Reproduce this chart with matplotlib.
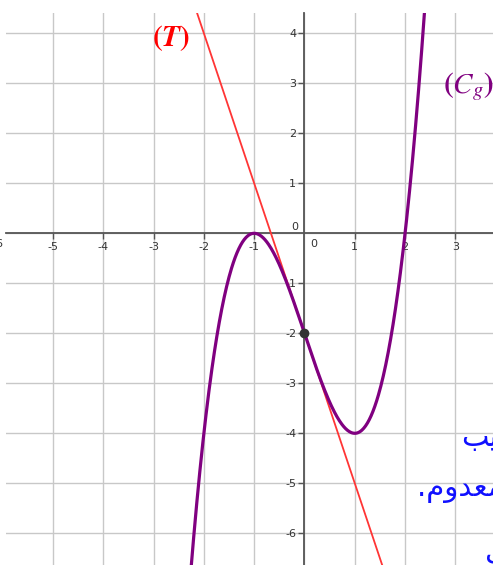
import matplotlib

matplotlib.use("Agg")
import matplotlib.pyplot as plt
import numpy as np

# g(x) = x^3 - 3x - 2 and its tangent (T) at x = 0
g_coeffs = [1, 0, -3, -2]
tangent_coeffs = [-3, -2]
contact_point = (0, -2)

x_ticks = [-5, -4, -3, -2, -1, 1, 2, 3]
y_ticks = [-6, -5, -4, -3, -2, -1, 1, 2, 3, 4]

# text lines on the right, Arabic presentation forms in visual order
note_lines = ["ﺐﻴﺗﺮﺘﻟﺎﺑ", ".ﻡﻭﺪﻌﻣ ﻥﻮﻜﻳ", "ﻞﻴﻠﺤﺗ"]

xlim = (-5.934, 3.748)
ylim = (-6.634, 4.406)

purple = "#800080"
red = "#ff3535"
grid_col = "#c8c8c8"
axis_col = "#555555"
plt.rcParams["mathtext.fontset"] = "stix"

fig = plt.figure(figsize=(4.93, 5.65), dpi=100)
ax = fig.add_axes([6 / 493, 0, 487 / 493, 552 / 565])
ax.set_xlim(*xlim)
ax.set_ylim(*ylim)

# grid every unit
for xv in np.arange(-5, 4):
    ax.axvline(xv, color=grid_col, lw=1, zorder=0)
for yv in np.arange(-6, 5):
    ax.axhline(yv, color=grid_col, lw=1, zorder=0)

# axes through the origin
for side in ("top", "right"):
    ax.spines[side].set_visible(False)
ax.spines["left"].set_position(("data", 0))
ax.spines["bottom"].set_position(("data", 0))
for side in ("left", "bottom"):
    ax.spines[side].set_color(axis_col)
    ax.spines[side].set_linewidth(1.3)
    ax.spines[side].set_zorder(1)

ax.set_xticks(x_ticks)
ax.set_yticks(y_ticks)
ax.set_xticklabels([str(v) for v in x_ticks])
ax.set_yticklabels([str(v) for v in y_ticks])
ax.tick_params(direction="out", length=4, width=1, color=axis_col,
               labelsize=8, labelcolor="#333333", pad=2)

# origin labels and the clipped -6 on the far left
ax.text(-0.12, 0.02, "0", fontsize=8, color="#333333", ha="right", va="bottom")
ax.text(0.12, -0.12, "0", fontsize=8, color="#333333", ha="left", va="top")
ax.text(-6.1, -0.12, "-6", fontsize=8, color="#333333", ha="center", va="top",
        clip_on=False)

xs = np.linspace(xlim[0], xlim[1], 800)
ax.plot(xs, np.polyval(tangent_coeffs, xs), color=red, lw=1.3, zorder=3)
ax.plot(xs, np.polyval(g_coeffs, xs), color=purple, lw=2.3, zorder=4)
ax.plot(*contact_point, "o", ms=6, color="#333333", zorder=5)

ax.text(-2.66, 3.9, r"$\mathbf{(}\boldsymbol{T}\mathbf{)}$", color="red",
        fontsize=21, ha="center", va="center")
ax.text(2.76, 2.93, r"$\mathbf{(}\boldsymbol{C_g}\mathbf{)}$", color=purple,
        fontsize=21, ha="left", va="center", clip_on=False)

note_pos = [(3.12, -4.26), (2.24, -5.26), (3.58, -6.5)]
for (tx, ty), line in zip(note_pos, note_lines):
    ax.text(tx, ty, line, color="#1010ff", fontsize=21, family="DejaVu Sans",
            ha="left", va="baseline", clip_on=False)

fig.savefig("out.png", dpi=100)
